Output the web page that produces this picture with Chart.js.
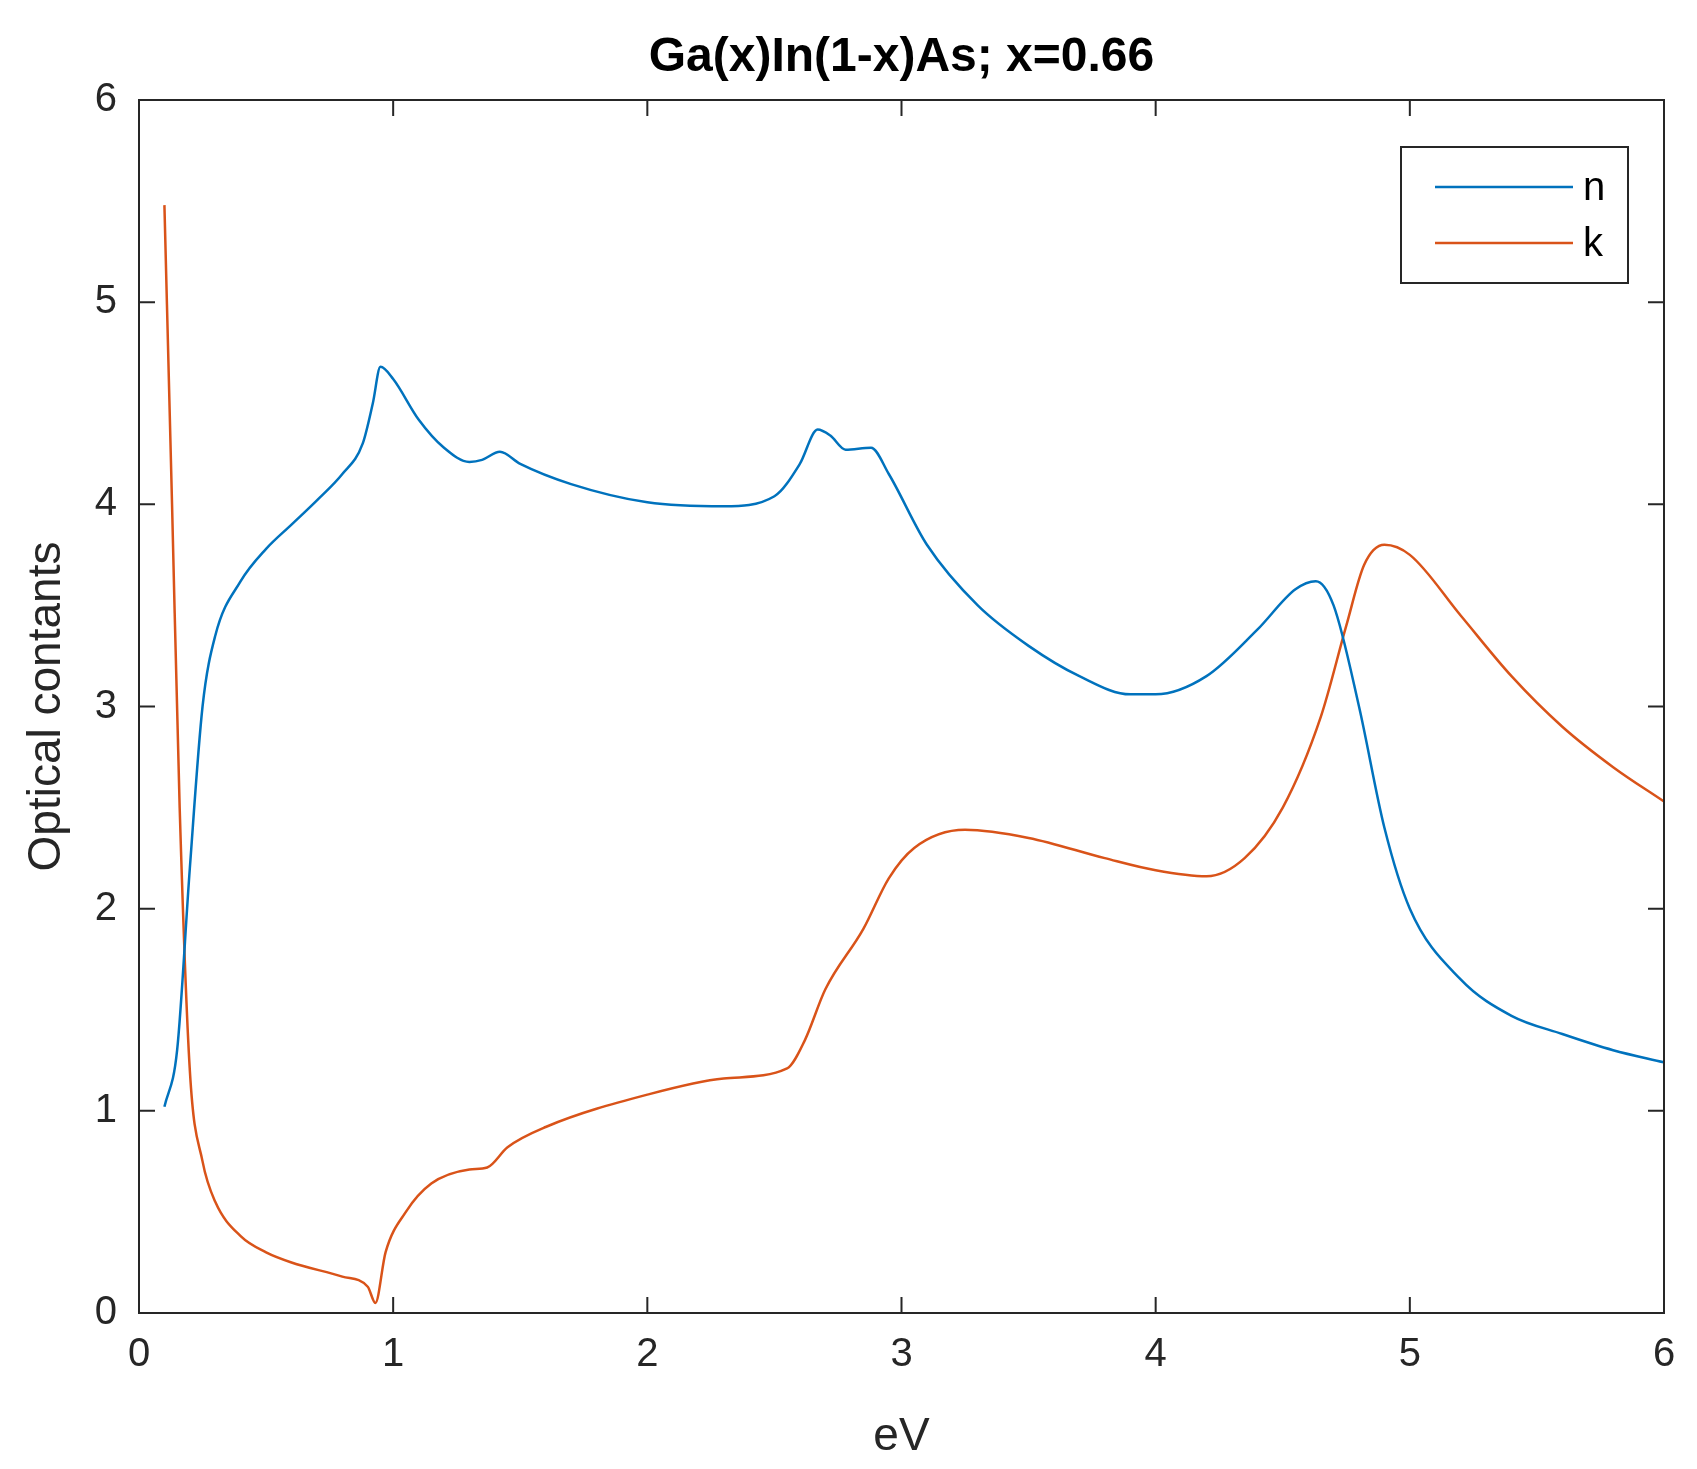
<!DOCTYPE html>
<html>
<head>
<meta charset="utf-8">
<script src="https://cdn.jsdelivr.net/npm/chart.js@4"></script>
<style>
  html, body { margin: 0; padding: 0; background: #fff; }
  #wrap { width: 1697px; height: 1469px; }
</style>
</head>
<body>
<div id="wrap"><canvas id="chartOptik"></canvas></div>
<script>
// data
const nX = [0.1,0.15,0.2,0.25,0.3,0.4,0.5,0.6,0.7,0.8,0.88,0.92,0.95,1.0,1.1,1.2,1.3,1.35,1.42,1.5,1.7,2.0,2.3,2.5,2.6,2.67,2.72,2.78,2.88,2.95,3.1,3.3,3.5,3.7,3.9,4.0,4.2,4.4,4.55,4.63,4.7,4.8,4.9,5.0,5.2,5.4,5.6,5.8,6.0];
const nY = [1.02,1.3,2.2,3.0,3.35,3.62,3.78,3.9,4.02,4.15,4.3,4.5,4.68,4.62,4.42,4.28,4.21,4.22,4.26,4.2,4.1,4.01,3.99,4.04,4.2,4.37,4.34,4.27,4.28,4.15,3.8,3.5,3.3,3.15,3.06,3.06,3.15,3.38,3.58,3.62,3.5,3.0,2.4,2.0,1.65,1.47,1.38,1.3,1.24];
const kX = [0.1,0.13,0.16,0.2,0.25,0.3,0.4,0.5,0.6,0.8,0.9,0.93,0.97,1.05,1.15,1.3,1.37,1.45,1.6,2.0,2.3,2.55,2.62,2.7,2.85,2.95,3.05,3.25,3.5,3.8,4.0,4.2,4.35,4.5,4.65,4.75,4.82,4.9,5.0,5.2,5.4,5.6,5.8,6.0];
const kY = [5.48,4.0,2.5,1.2,0.75,0.55,0.38,0.3,0.25,0.18,0.13,0.05,0.3,0.5,0.64,0.71,0.72,0.82,0.92,1.08,1.16,1.21,1.35,1.6,1.9,2.15,2.3,2.39,2.35,2.25,2.19,2.16,2.25,2.5,2.95,3.4,3.7,3.8,3.75,3.45,3.15,2.9,2.7,2.53];
const xTicks = [0,1,2,3,4,5,6];
const yTicks = [0,1,2,3,4,5,6];
const seriesNames = ['n','k'];
const seriesColors = ['#0072BD','#D95319'];

const toPoints = (xs, ys) => xs.map((x, i) => ({ x: x, y: ys[i] }));

// frame, inward ticks, title and legend like the original figure
const framePlugin = {
  id: 'frame',
  afterDraw(chart) {
    const c = chart.ctx, a = chart.chartArea;
    const sx = chart.scales.x, sy = chart.scales.y;
    c.save();
    c.strokeStyle = '#262626';
    c.lineWidth = 2;
    c.strokeRect(a.left, a.top, a.right - a.left, a.bottom - a.top);
    const t = 16;
    xTicks.forEach(v => {
      const px = sx.getPixelForValue(v);
      c.beginPath();
      c.moveTo(px, a.bottom); c.lineTo(px, a.bottom - t);
      c.moveTo(px, a.top); c.lineTo(px, a.top + t);
      c.stroke();
    });
    yTicks.forEach(v => {
      const py = sy.getPixelForValue(v);
      c.beginPath();
      c.moveTo(a.left, py); c.lineTo(a.left + t, py);
      c.moveTo(a.right, py); c.lineTo(a.right - t, py);
      c.stroke();
    });
    // title
    c.fillStyle = '#000';
    c.font = 'bold 48px "Liberation Sans", Arial, sans-serif';
    c.textAlign = 'center';
    c.textBaseline = 'middle';
    c.fillText('Ga(x)In(1-x)As; x=0.66', (a.left + a.right) / 2, 58);
    // legend
    const lx = 1401, ly = 147, lw = 227, lh = 136;
    c.fillStyle = '#fff';
    c.fillRect(lx, ly, lw, lh);
    c.strokeStyle = '#262626';
    c.strokeRect(lx, ly, lw, lh);
    seriesNames.forEach((name, i) => {
      const yy = ly + 40 + i * 56;
      c.strokeStyle = seriesColors[i];
      c.lineWidth = 2.5;
      c.beginPath();
      c.moveTo(lx + 34, yy); c.lineTo(lx + 172, yy);
      c.stroke();
      c.fillStyle = '#000';
      c.font = '40px "Liberation Sans", Arial, sans-serif';
      c.textAlign = 'left';
      c.fillText(name, lx + 182, yy + 2);
    });
    c.restore();
  }
};

const ctx = document.getElementById('chartOptik').getContext('2d');
const chart = new Chart(ctx, {
  type: 'scatter',
  data: {
    datasets: [
      { label: 'n', data: toPoints(nX, nY), showLine: true, borderColor: seriesColors[0], borderWidth: 2.5, pointRadius: 0, tension: 0.35, cubicInterpolationMode: 'monotone' },
      { label: 'k', data: toPoints(kX, kY), showLine: true, borderColor: seriesColors[1], borderWidth: 2.5, pointRadius: 0, tension: 0.35, cubicInterpolationMode: 'monotone' }
    ]
  },
  options: {
    responsive: true,
    maintainAspectRatio: false,
    animation: false,
    layout: { padding: { left: 0, right: 33, top: 100, bottom: 0 } },
    plugins: { legend: { display: false }, tooltip: { enabled: false } },
    scales: {
      x: {
        type: 'linear', min: 0, max: 6,
        afterBuildTicks: s => { s.ticks = xTicks.map(v => ({ value: v })); },
        afterFit: s => { s.height = 156; },
        grid: { display: false },
        border: { display: false },
        ticks: { color: '#262626', font: { size: 40, family: '"Liberation Sans", Arial' }, padding: 10 },
        title: { display: true, text: 'eV', color: '#262626', font: { size: 46, family: '"Liberation Sans", Arial' }, padding: { top: 4 } }
      },
      y: {
        type: 'linear', min: 0, max: 6,
        afterBuildTicks: s => { s.ticks = yTicks.map(v => ({ value: v })); },
        afterFit: s => { s.width = 139; },
        grid: { display: false },
        border: { display: false },
        ticks: { color: '#262626', font: { size: 40, family: '"Liberation Sans", Arial' }, padding: 14 },
        title: { display: true, text: 'Optical contants', color: '#262626', font: { size: 46, family: '"Liberation Sans", Arial' }, padding: { top: 20, bottom: 0 } }
      }
    }
  },
  plugins: [framePlugin]
});
</script>
</body>
</html>
